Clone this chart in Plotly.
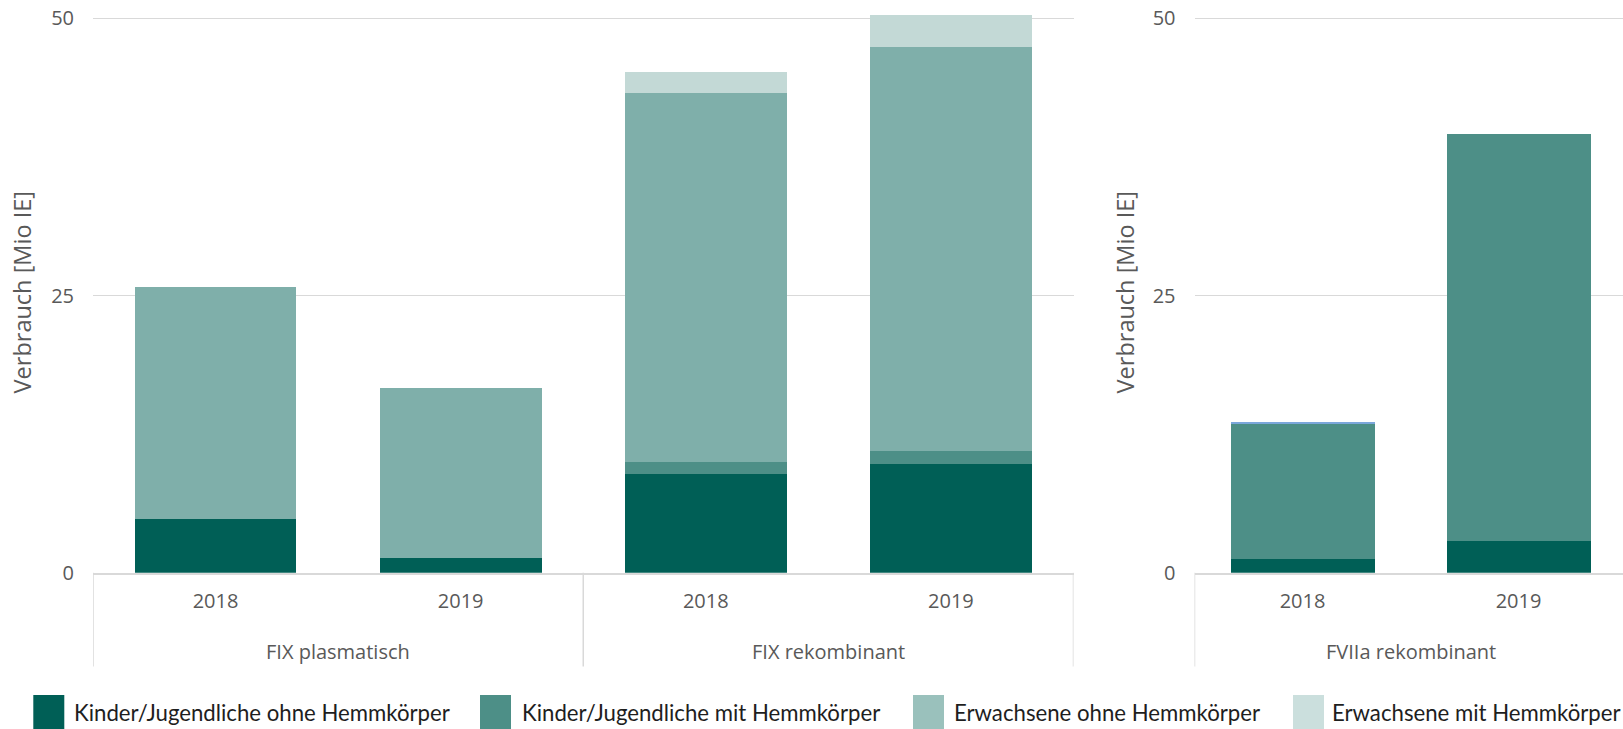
import plotly.graph_objects as go

# --- data (Mio IE) ---------------------------------------------------------
years_fix = ["2018", "2019", "2018", "2019"]
groups_fix = ["FIX plasmatisch", "FIX rekombinant"]
kj_ohne_fix = [4.8, 1.3, 8.9, 9.8]
kj_mit_fix = [0.0, 0.0, 1.1, 1.2]
erw_ohne_fix = [21.0, 15.4, 33.3, 36.4]
erw_mit_fix = [0.0, 0.0, 1.9, 2.9]

years_fviia = ["2018", "2019"]
group_fviia = "FVIIa rekombinant"
kj_ohne_fviia = [1.2, 2.9]
kj_mit_fviia = [12.3, 36.7]
erw_fviia = [0.12, 0.0]

series_names = [
    "Kinder/Jugendliche ohne Hemmkörper",
    "Kinder/Jugendliche mit Hemmkörper",
    "Erwachsene ohne Hemmkörper",
    "Erwachsene mit Hemmkörper",
]
y_ticks = [0, 25, 50]
y_title = "Verbrauch [Mio IE]"

# --- styling ---------------------------------------------------------------
bar_colors = ["#005F56", "#4D8F87", "#7FAFAA", "#C3D9D6"]
legend_colors = ["#005F56", "#4D8F87", "#9AC1BC", "#CBDFDD"]
fviia_top_color = "#7BA7DB"
grid_c = "#D9D9D9"
label_c = "#595959"
FONT = "Open Sans"

W, H = 1623, 729
def px(x):  # horizontal pixel -> paper
    return x / W
def py(y):  # vertical pixel (from top) -> paper
    return 1 - y / H

y_bottom = py(572.7)
y_range = [0, 51.65]

fig = go.Figure()

x_fix = list(range(len(years_fix)))
for name, vals, col in zip(series_names,
                           [kj_ohne_fix, kj_mit_fix, erw_ohne_fix, erw_mit_fix],
                           bar_colors):
    fig.add_trace(go.Bar(x=x_fix, y=vals, name=name, marker_color=col,
                         marker_line_width=0, width=0.66,
                         xaxis="x", yaxis="y", showlegend=False))

x_fv = list(range(len(years_fviia)))
for name, vals, col in zip(series_names[:3],
                           [kj_ohne_fviia, kj_mit_fviia, erw_fviia],
                           bar_colors[:2] + [fviia_top_color]):
    fig.add_trace(go.Bar(x=x_fv, y=vals, name=name, marker_color=col,
                         marker_line_width=0, width=0.667,
                         xaxis="x2", yaxis="y2", showlegend=False))

axis_font = dict(family=FONT, size=20, color=label_c)

common_x = dict(showgrid=False, zeroline=False, showline=True, linecolor=grid_c,
                linewidth=1.5, ticks="", tickfont=axis_font, ticklabelstandoff=10,
                automargin=False, fixedrange=True)
common_y = dict(range=y_range, tickvals=y_ticks, showgrid=True, gridcolor=grid_c,
                gridwidth=1, zeroline=False, showline=False, ticks="",
                tickfont=axis_font, ticklabelstandoff=18, automargin=False,
                fixedrange=True)

fig.update_layout(
    width=W, height=H, autosize=False,
    margin=dict(l=0, r=0, t=0, b=0, pad=0, autoexpand=False),
    paper_bgcolor="white", plot_bgcolor="white",
    barmode="stack", bargap=0,
    showlegend=False,
    xaxis=dict(domain=[px(93), px(1073.5)], range=[-0.5, 3.5],
               tickvals=x_fix, ticktext=years_fix, anchor="y", **common_x),
    yaxis=dict(domain=[y_bottom, 1], anchor="x", **common_y),
    xaxis2=dict(domain=[px(1194.5), 1], range=[-0.5, -0.5 + 428.5 / 216],
                tickvals=x_fv, ticktext=years_fviia, anchor="y2", **common_x),
    yaxis2=dict(domain=[y_bottom, 1], anchor="x2", **common_y),
)

# category group dividers and labels
div_bottom = py(666.5)
shapes = []
for xv in [-0.5, 1.5, 3.5]:
    shapes.append(dict(type="line", xref="x", yref="paper", x0=xv, x1=xv,
                       y0=div_bottom, y1=y_bottom, line=dict(color=grid_c, width=1.5)))
shapes.append(dict(type="line", xref="x2", yref="paper", x0=-0.5, x1=-0.5,
                   y0=div_bottom, y1=y_bottom, line=dict(color=grid_c, width=1.5)))

annotations = []
for gx, g in zip([0.5, 2.5], groups_fix):
    annotations.append(dict(xref="x", yref="paper", x=gx, y=py(651.5), text=g,
                            showarrow=False, xanchor="center", yanchor="middle",
                            font=axis_font))
annotations.append(dict(xref="x2", yref="paper", x=0.5, y=py(651.5), text=group_fviia,
                        showarrow=False, xanchor="center", yanchor="middle",
                        font=axis_font))

# y-axis titles
for xp in [22, 1125]:
    annotations.append(dict(xref="paper", yref="paper", x=px(xp), y=py(292.4),
                            text=y_title, textangle=-90, showarrow=False,
                            xanchor="center", yanchor="middle",
                            font=dict(family=FONT, size=23.5, color=label_c)))

# legend row
sq_left = [33.3, 480, 913, 1293]
txt_left = [72, 520, 952, 1330]
for name, col, x0, xt in zip(series_names, legend_colors, sq_left, txt_left):
    shapes.append(dict(type="rect", xref="paper", yref="paper",
                       x0=px(x0), x1=px(x0 + 31), y0=py(729), y1=py(695),
                       fillcolor=col, line=dict(width=0)))
    annotations.append(dict(xref="paper", yref="paper", x=px(xt), y=py(712),
                            text=name, showarrow=False, xanchor="left",
                            yanchor="middle",
                            font=dict(family="Lato", size=22.2, color="#1E1E1E")))

fig.update_layout(shapes=shapes, annotations=annotations)

fig.write_html("out.html")
